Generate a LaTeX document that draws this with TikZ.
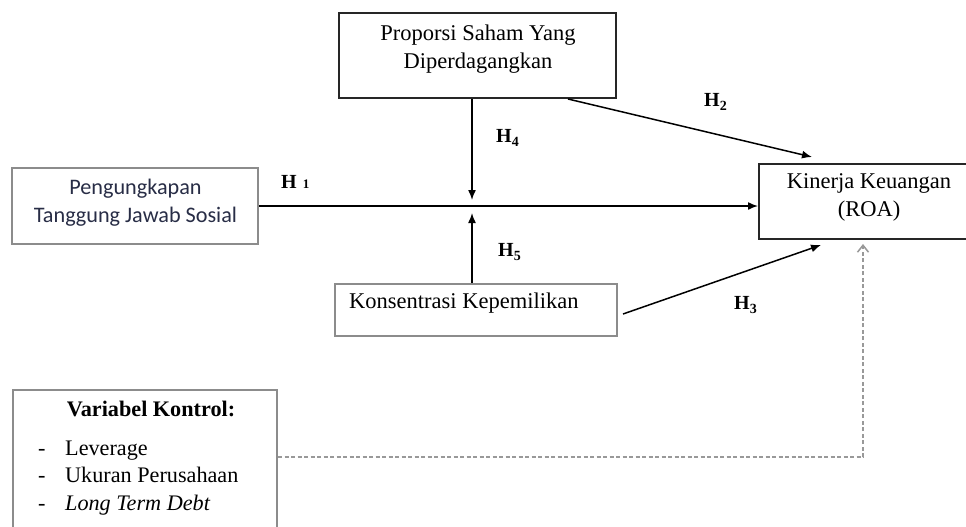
\documentclass[tikz,border=0pt]{standalone}
\usepackage{fontspec}
\setmainfont{Liberation Serif}
\newfontfamily\calibrifont{Carlito}
\usetikzlibrary{arrows.meta}
\definecolor{sanstext}{RGB}{40,45,70}
\begin{document}
\begin{tikzpicture}[x=1pt,y=-1pt,
  boxdark/.style={draw=black!85, line width=2pt, inner sep=0pt},
  boxgrey/.style={draw=black!45, line width=2pt, inner sep=0pt},
  txt/.style={font=\fontsize{22.5}{28.5}\selectfont, align=center, inner sep=0pt},
  hlab/.style={font=\fontsize{20}{20}\selectfont\bfseries, inner sep=0pt, anchor=west},
  conn/.style={line width=1.5pt, -{Latex[length=10pt,width=8pt]}},
  ctrlline/.style={draw=black!40, line width=1.5pt, dash pattern=on 4pt off 2.5pt, -{Straight Barb[length=7pt,width=11pt]}}
]
\clip (0,0) rectangle (966,527);
\fill[white] (0,0) rectangle (966,527);

% boxes
\node[boxgrey, minimum width=246pt, minimum height=76pt] (csr) at (135,206) {};
\node[boxdark, minimum width=277pt, minimum height=85pt] (prop) at (477.5,55.5) {};
\node[boxdark, minimum width=220pt, minimum height=75pt] (kin) at (869,201.5) {};
\node[boxgrey, minimum width=282pt, minimum height=52pt] (kons) at (476,310) {};
\node[boxgrey, minimum width=264pt, minimum height=160pt] (ctrl) at (145,470) {};

% texts
\node[txt, font=\calibrifont\fontsize{22.2}{28}\selectfont, text=sanstext] (csrt) at (135.5,203) {Pengungkapan\\Tanggung Jawab Sosial};
\node[txt] (propt) at (478,49) {Proporsi Saham Yang\\Diperdagangkan};
\node[txt] (kint) at (869,197.5) {Kinerja Keuangan\\(ROA)};
\node[txt, anchor=west] (konst) at (349,303) {Konsentrasi Kepemilikan};
\node[txt, font=\fontsize{22.2}{28}\selectfont\bfseries] (ctrlt) at (151,409) {Variabel Kontrol:};
\node[txt, font=\fontsize{22.2}{27.5}\selectfont, align=left, anchor=base west] (items) at (38,510)
  {\makebox[27pt][l]{-}Leverage\\\makebox[27pt][l]{-}Ukuran Perusahaan\\\makebox[27pt][l]{-}\textit{Long Term Debt}};

% hypothesis labels
\node[hlab] (h1) at (281,182) {H\hspace{6pt}{\fontsize{13}{13}\selectfont 1}};
\node[hlab] (h2) at (704,102) {H\textsubscript{2}};
\node[hlab] (h3) at (734,305) {H\textsubscript{3}};
\node[hlab] (h4) at (496,138) {H\textsubscript{4}};
\node[hlab] (h5) at (498,252) {H\textsubscript{5}};

% connectors
\coordinate (m) at (472,206);
\coordinate (cor) at (863,457);
\draw[conn] (csr.east) -- (csr.east -| kin.west);
\draw[conn] (prop.south -| m) -- ([yshift=6pt]m);
\draw[conn] (kons.north -| m) -- ([yshift=-7pt]m);
\draw[conn] ([xshift=-49pt]prop.south east) -- ([xshift=54pt,yshift=6pt]kin.north west);
\draw[conn] ([xshift=5pt,yshift=-4pt]kons.east) -- ([xshift=63pt,yshift=-5pt]kin.south west);
\draw[ctrlline] (ctrl.east |- cor) -- (cor) -- ([yshift=-4pt]cor |- kin.south);
\end{tikzpicture}
\end{document}
